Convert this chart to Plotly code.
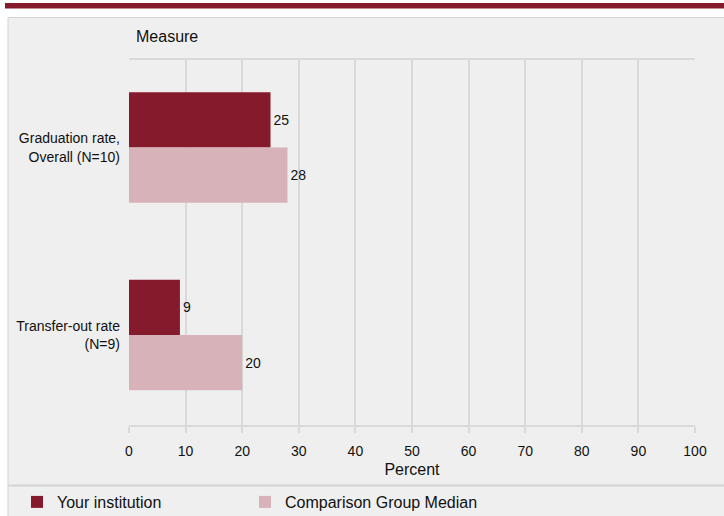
import plotly.graph_objects as go

categories = ["Graduation rate,<br>Overall (N=10)", "Transfer-out rate<br>(N=9)"]
your_inst = [25, 9]
comparison = [28, 20]
series_names = ["Your institution", "Comparison Group Median"]
tick_vals = [0, 10, 20, 30, 40, 50, 60, 70, 80, 90, 100]

DARK = "#861a2d"
LIGHT = "#d8b2b9"
BG = "#efefef"
GRID = "#d9d9d9"
FONT = "Liberation Sans, Arial, sans-serif"

W, H = 724, 516
L, R, T, B = 129, 29, 60, 91
PW, PH = W - L - R, H - T - B

def px_x(px):
    return (px - L) / PW

def px_y(py):
    return (H - B - py) / PH

fig = go.Figure()
fig.add_trace(go.Bar(
    y=categories, x=your_inst, orientation="h", name=series_names[0],
    marker=dict(color=DARK, line=dict(width=0)),
    text=[str(v) for v in your_inst], textposition="outside",
    textfont=dict(color="#111111", size=14, family=FONT), cliponaxis=False,
    legend="legend",
))
fig.add_trace(go.Bar(
    y=categories, x=comparison, orientation="h", name=series_names[1],
    marker=dict(color=LIGHT, line=dict(width=0)),
    text=[str(v) for v in comparison], textposition="outside",
    textfont=dict(color="#111111", size=14, family=FONT), cliponaxis=False,
    legend="legend2",
))

shapes = [
    dict(type="rect", xref="paper", yref="paper", layer="below",
         x0=px_x(8), x1=px_x(726), y0=px_y(17.5), y1=px_y(520),
         fillcolor=BG, line=dict(color="#d4d4d4", width=1)),
    dict(type="rect", xref="paper", yref="paper", layer="above",
         x0=px_x(5), x1=px_x(726), y0=px_y(3), y1=px_y(8.5),
         fillcolor=DARK, line=dict(width=0)),
    dict(type="line", xref="paper", yref="paper", layer="above",
         x0=px_x(8), x1=px_x(726), y0=px_y(485.5), y1=px_y(485.5),
         line=dict(color="#d4d4d4", width=2)),
]

annotations = [
    dict(text="Measure", xref="paper", yref="paper", x=px_x(134), y=px_y(37),
         xanchor="left", yanchor="middle", showarrow=False,
         font=dict(size=16, color="#111111", family=FONT)),
]

legend_common = dict(orientation="h", xref="container", yref="container",
                     yanchor="middle", xanchor="left",
                     font=dict(size=16, family=FONT, color="#111111"),
                     bgcolor="rgba(0,0,0,0)")

fig.update_layout(
    width=W, height=H, autosize=False,
    margin=dict(l=L, r=R, t=T, b=B, autoexpand=False),
    paper_bgcolor="white", plot_bgcolor=BG,
    font=dict(family=FONT, size=14, color="#111111"),
    barmode="group", bargap=0.41, bargroupgap=0,
    shapes=shapes, annotations=annotations,
    showlegend=True,
    legend=dict(x=17 / W, y=1 - 502 / H, **legend_common),
    legend2=dict(x=245 / W, y=1 - 502 / H, **legend_common),
    xaxis=dict(range=[0, 100], tickvals=tick_vals, showgrid=True, gridcolor=GRID, gridwidth=2,
               zeroline=False, showline=True, linecolor=GRID, linewidth=2, mirror=True,
               ticks="outside", ticklen=6, tickcolor=GRID, tickwidth=2, ticklabelstandoff=6,
               tickfont=dict(size=14, family=FONT, color="#111111"),
               title=dict(text="Percent", font=dict(size=16, family=FONT, color="#111111"), standoff=6),
               fixedrange=True),
    yaxis=dict(type="category", categoryorder="array", categoryarray=categories,
               range=[1.48, -0.467], showgrid=False, zeroline=False, showline=False,
               ticks="", ticklabelstandoff=8,
               tickfont=dict(size=14, family=FONT, color="#111111"),
               fixedrange=True),
)

post = (
    "var s=document.createElement('style');"
    "s.textContent='html,body{margin:0;padding:0;overflow:hidden;}';"
    "document.head.appendChild(s);"
)

fig.write_html("out.html", config={"responsive": False, "displayModeBar": False},
               post_script=post)
